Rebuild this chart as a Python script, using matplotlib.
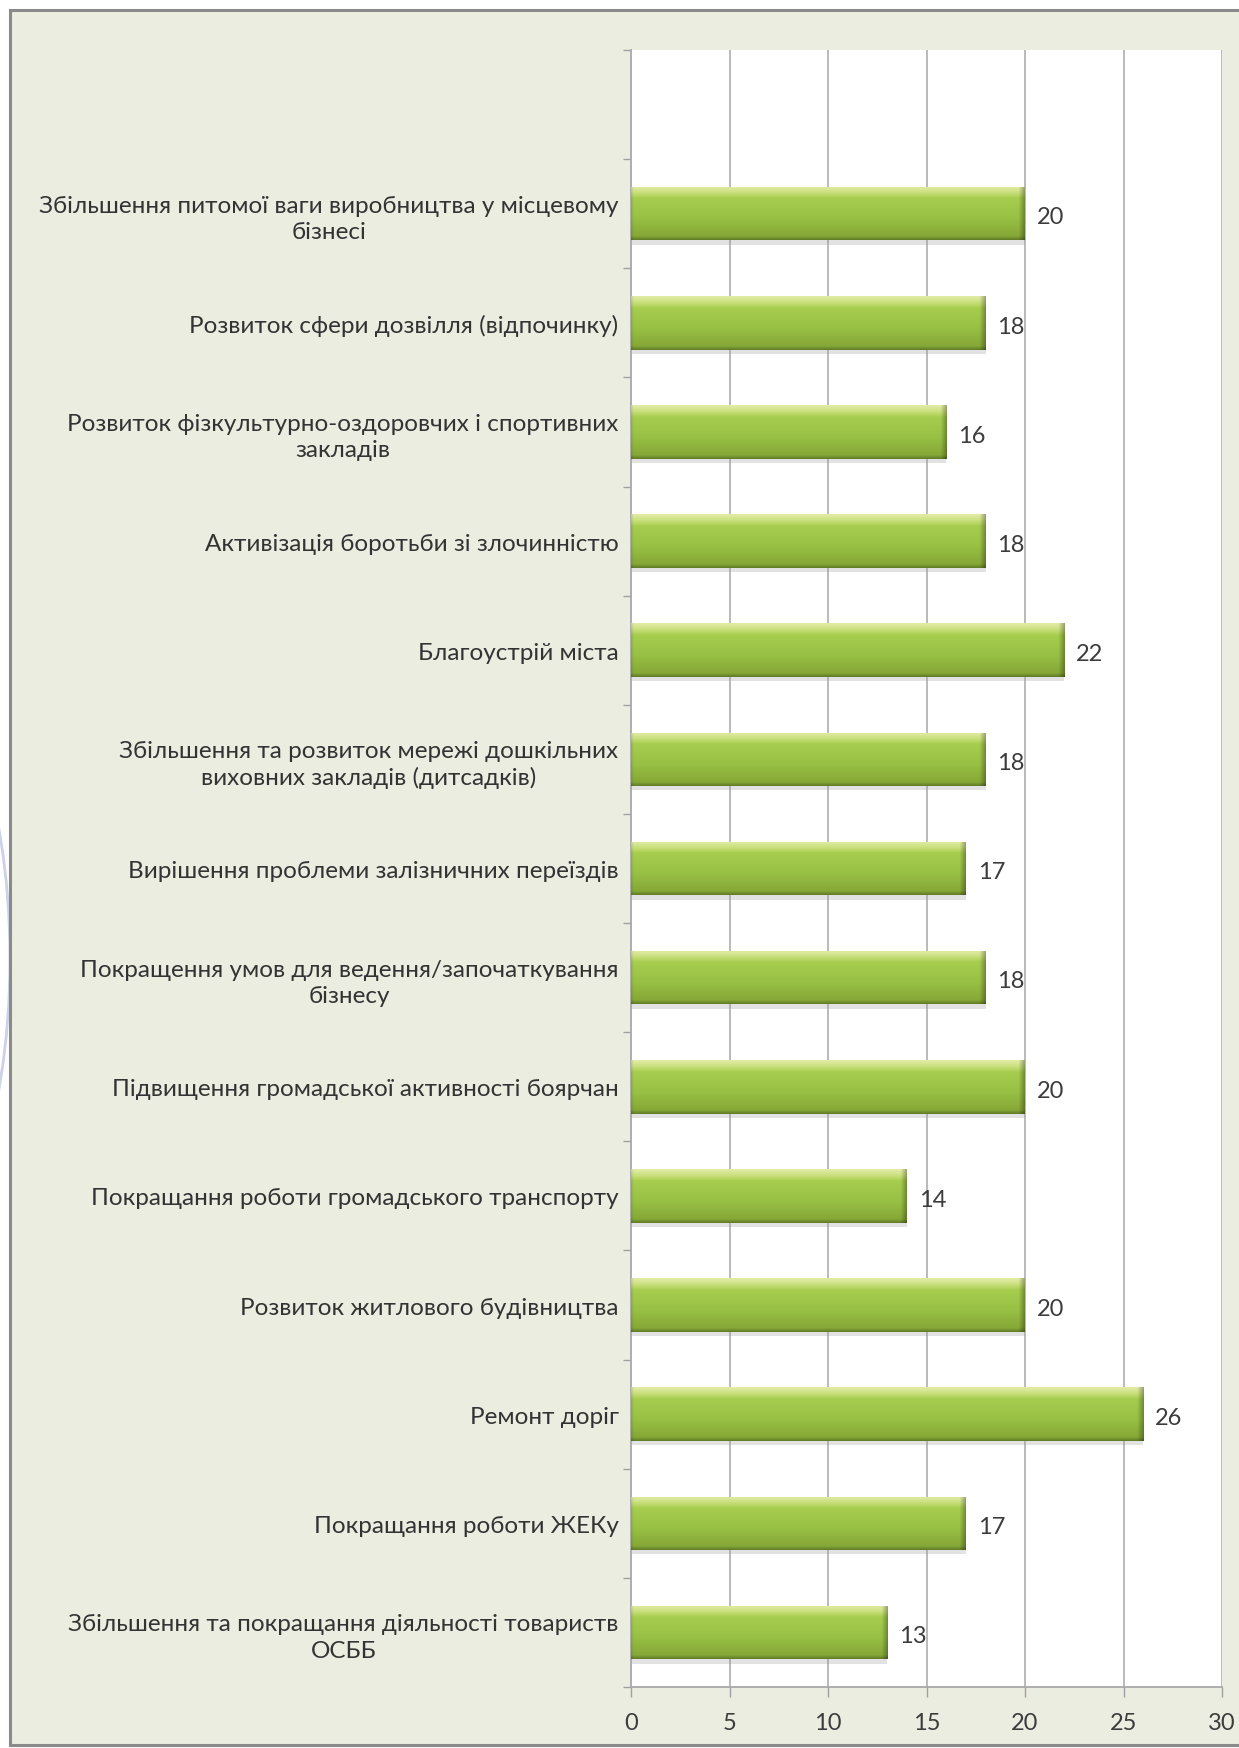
import numpy as np
import matplotlib
matplotlib.use("Agg")
import matplotlib.pyplot as plt
from matplotlib.patches import Rectangle, Arc
from matplotlib.colors import LinearSegmentedColormap

plt.rcParams['font.family'] = ['Lato', 'DejaVu Sans']

categories = [
    "Збільшення питомої ваги виробництва у місцевому\nбізнесі",
    "Розвиток сфери дозвілля (відпочинку)",
    "Розвиток фізкультурно-оздоровчих і спортивних\nзакладів",
    "Активізація боротьби зі злочинністю",
    "Благоустрій міста",
    "Збільшення та розвиток мережі дошкільних\nвиховних закладів (дитсадків)",
    "Вирішення проблеми залізничних переїздів",
    "Покращення умов для ведення/започаткування\nбізнесу",
    "Підвищення громадської активності боярчан",
    "Покращання роботи громадського транспорту",
    "Розвиток житлового будівництва",
    "Ремонт доріг",
    "Покращання роботи ЖЕКу",
    "Збільшення та покращання діяльності товариств\nОСББ",
]
values = [20, 18, 16, 18, 22, 18, 17, 18, 20, 14, 20, 26, 17, 13]
x_ticks = [0, 5, 10, 15, 20, 25, 30]

W, H = 1239, 1749
fig = plt.figure(figsize=(W / 100, H / 100), dpi=100)
fig.patch.set_facecolor("white")

# faint lavender arc at the left edge (behind the frame)
arc = Arc((-110 / W, 1 - 960 / H), 240 / W, 620 / H, theta1=-90, theta2=90,
          transform=fig.transFigure, color="#cdd1ea", linewidth=2, zorder=-2)
fig.add_artist(arc)

# beige frame
frame = Rectangle((10 / W, 1 - 1746 / H), 1.5, (1746 - 11) / H,
                  transform=fig.transFigure, facecolor="#ecede1",
                  edgecolor="#8a8a8a", linewidth=2.2, zorder=-1)
fig.add_artist(frame)

left, right = 631, 1222
top, bottom = 51, 1688
ax = fig.add_axes([left / W, 1 - bottom / H, (right - left) / W, (bottom - top) / H])
ax.set_zorder(2)
ax.set_facecolor("white")

n = len(categories)
ypos = np.arange(n)[::-1]  # first category at top

ax.set_xticks(x_ticks)
ax.set_xticklabels([str(t) for t in x_ticks])
for t in x_ticks[1:]:
    ax.axvline(t, color="#b4b4b4", linewidth=1.3, zorder=1)

bh = 0.49
# shadow
ax.barh(ypos - 0.04, values, height=bh, left=0.0, color="#a0a0a0",
        alpha=0.3, linewidth=0, zorder=2)
bars = ax.barh(ypos, values, height=bh, color="#98c040", linewidth=0, zorder=3)

# gradient fill for each bar
stops = [(0.0, "#627d26"), (0.07, "#86a837"), (0.40, "#98c044"),
         (0.78, "#a6cd4e"), (0.89, "#cbe07e"), (1.0, "#e3eca8")]
cmap = LinearSegmentedColormap.from_list("bar", stops)
for b, v in zip(bars, values):
    y0 = b.get_y()
    nx = 400
    ny = 100
    vert = np.linspace(0, 1, ny)[:, None] * np.ones((1, nx))
    xs = np.linspace(0, v, nx)[None, :]
    dark_r = np.clip((xs - (v - 0.3)) / 0.3, 0, 1)
    dark_l = np.clip((0.12 - xs) / 0.12, 0, 1)
    img = cmap(vert)
    shade = 1 - 0.3 * dark_r - 0.12 * dark_l
    img[..., :3] *= shade[..., None]
    im = ax.imshow(img, extent=[0, v, y0, y0 + bh], origin="lower",
                   aspect="auto", zorder=4, interpolation="bilinear")
    im.set_clip_path(b)
    ax.text(v + 0.6, y0 + bh / 2 - 0.03, str(v), va="center", ha="left",
            fontsize=17, color="#3c3c3c", zorder=5)
ax.set_xlim(0, 30)
ax.set_ylim(-0.5, n + 0.5)

ax.set_yticks(ypos)
ax.set_yticklabels(categories, fontsize=17.5, color="#333333",
                   multialignment="center", linespacing=1.3)
ax.set_yticks(np.arange(-0.5, n + 0.6, 1.0), minor=True)
ax.tick_params(axis="y", which="major", length=0, pad=9)
ax.tick_params(axis="y", which="minor", length=6, color="#a0a0a0", width=1)
ax.tick_params(axis="x", which="major", length=7, color="#a0a0a0", width=1,
               labelsize=17, labelcolor="#3c3c3c", pad=11)

for s in ["top", "right"]:
    ax.spines[s].set_visible(False)
for s in ["left", "bottom"]:
    ax.spines[s].set_color("#a8a8a8")
    ax.spines[s].set_linewidth(1.3)

fig.savefig("out.png", dpi=100, facecolor=fig.get_facecolor())
